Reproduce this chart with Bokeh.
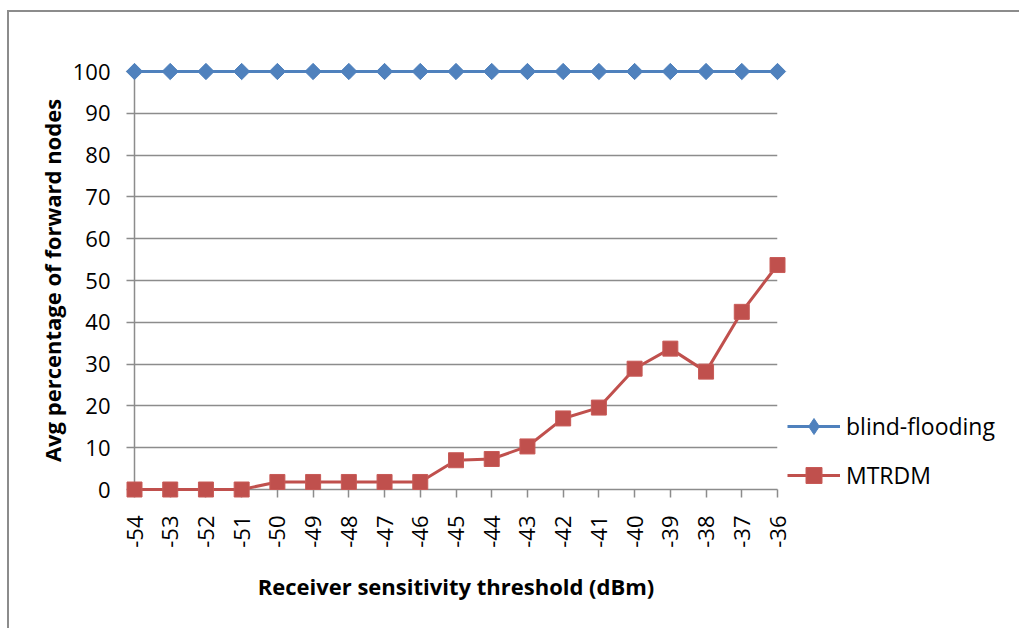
import numpy as np
from bokeh.plotting import figure
from bokeh.models import Range1d, FixedTicker, Legend, LegendItem, ColumnDataSource
from bokeh.embed import file_html
from bokeh.resources import INLINE

# Receiver sensitivity thresholds (dBm) on the category axis
thresholds = [-54, -53, -52, -51, -50, -49, -48, -47, -46, -45,
              -44, -43, -42, -41, -40, -39, -38, -37, -36]

# Average percentage of nodes that forward the packet
blind_flooding = [100, 100, 100, 100, 100, 100, 100, 100, 100, 100,
                  100, 100, 100, 100, 100, 100, 100, 100, 100]
mtrdm = [0, 0, 0, 0, 1.8, 1.8, 1.8, 1.8, 1.8, 7.0,
         7.3, 10.3, 17.0, 19.6, 28.9, 33.7, 28.2, 42.5, 53.7]

y_ticks = [0, 10, 20, 30, 40, 50, 60, 70, 80, 90, 100]

BLUE = "#4F81BD"
RED = "#C0504D"
GREY = "#8C8C8C"
FONT = "Open Sans"

p = figure(
    frame_width=643, frame_height=418,
    output_backend="svg", toolbar_location=None,
    x_range=Range1d(thresholds[0], thresholds[-1]),
    y_range=Range1d(0, 100),
    min_border_left=125, min_border_right=242,
    min_border_top=59, min_border_bottom=139,
)
# outer chart border (left and top edges)
p.styles = {
    "margin-left": "7px", "margin-top": "10px",
    "border-left": f"2px solid {GREY}", "border-top": f"2px solid {GREY}",
}
p.outline_line_color = None
p.background_fill_color = "white"
p.border_fill_color = "white"

# axes
p.xaxis.ticker = FixedTicker(ticks=thresholds)
p.xaxis.major_label_overrides = {t: str(t) for t in thresholds}
p.yaxis.ticker = FixedTicker(ticks=y_ticks)
p.xaxis.major_label_orientation = np.pi / 2
for ax in (p.xaxis, p.yaxis):
    ax.axis_line_color = GREY
    ax.axis_line_width = 1.5
    ax.major_tick_line_color = GREY
    ax.major_tick_line_width = 1.5
    ax.major_tick_in = 0
    ax.major_tick_out = 8
    ax.minor_tick_line_color = None
    ax.major_label_text_font = FONT
    ax.major_label_text_font_size = "22px"
    ax.major_label_text_color = "black"
    ax.axis_label_text_font = FONT
    ax.axis_label_text_font_style = "bold"
    ax.axis_label_text_color = "black"
    ax.axis_label_text_font_size = "22px"
p.xaxis.major_label_standoff = 18
p.yaxis.major_label_standoff = 16
p.xaxis.axis_label = "Receiver sensitivity threshold (dBm)"
p.yaxis.axis_label = "Avg percentage of forward nodes"
p.xaxis.axis_label_standoff = 20
p.yaxis.axis_label_standoff = 3

p.xgrid.grid_line_color = None
p.ygrid.grid_line_color = GREY
p.ygrid.grid_line_width = 1.5

# legend key for blind-flooding: a diamond symbol drawn tiny under the first
# point (legend keys ignore marker angle, so the rotated square can't be used)
bf_key = p.scatter(x=thresholds[:1], y=blind_flooding[:1], marker="diamond", size=1,
                   fill_color=BLUE, line_color=BLUE)

# series (overlay level so markers on the frame edges are not clipped)
bf_src = ColumnDataSource(dict(x=thresholds, y=blind_flooding,
                               a=[np.pi / 4] * len(thresholds)))
bf_line = p.line("x", "y", source=bf_src, line_color=BLUE, line_width=3, level="overlay")
bf_mark = p.scatter("x", "y", source=bf_src, marker="square", size=11.5, angle="a",
                    fill_color=BLUE, line_color=BLUE, level="overlay")
mt_line = p.line(thresholds, mtrdm, line_color=RED, line_width=3, level="overlay")
mt_mark = p.scatter(thresholds, mtrdm, marker="square", size=15,
                    fill_color=RED, line_color="#C85A57", line_width=1, level="overlay")

legend = Legend(
    items=[
        LegendItem(label="blind-flooding", renderers=[bf_line, bf_key]),
        LegendItem(label="MTRDM", renderers=[mt_line, mt_mark]),
    ],
    location=(10, -6),
    glyph_width=53, glyph_height=40, label_height=40,
    spacing=9, padding=0, margin=0, label_standoff=6,
    border_line_color=None, background_fill_alpha=0,
    label_text_font=FONT, label_text_font_size="23px", label_text_color="black",
)
p.add_layout(legend, "right")

open("out.html", "w").write(file_html(p, INLINE))
